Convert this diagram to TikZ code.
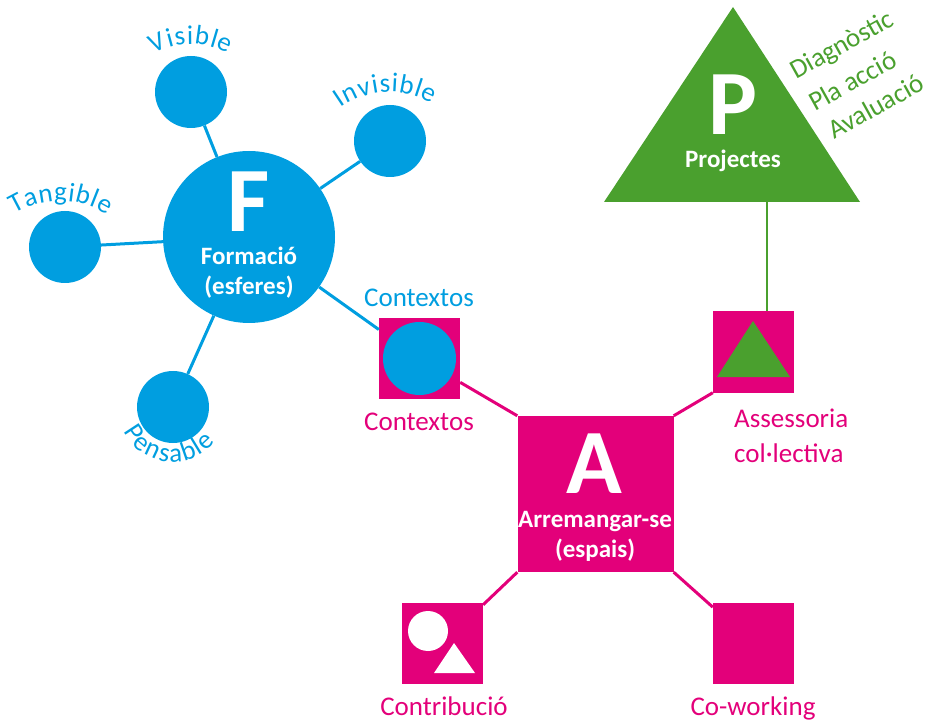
\documentclass[tikz,border=0pt]{standalone}
\usepackage{fontspec}
\setmainfont{Carlito}
\usetikzlibrary{decorations.text}
\definecolor{fblue}{RGB}{0,158,224}
\definecolor{apink}{RGB}{227,0,122}
\definecolor{pgreen}{RGB}{74,160,46}
\newcommand\lblfont{\fontsize{27pt}{32pt}\selectfont}
\newcommand\wboldfont{\fontsize{25pt}{30pt}\selectfont\bfseries}
\newcommand\hugefont{\fontsize{92pt}{92pt}\selectfont\bfseries}
\begin{document}
\begin{tikzpicture}[x=1pt,y=1pt,
  sat/.style={circle,fill=fblue,minimum size=72pt,inner sep=0pt},
  bigcirc/.style={circle,fill=fblue,minimum size=172pt,inner sep=0pt},
  sq/.style={rectangle,fill=apink,minimum size=81pt,inner sep=0pt},
  bline/.style={draw=fblue,line width=3pt},
  pline/.style={draw=apink,line width=3pt},
  gline/.style={draw=pgreen,line width=2.5pt},
  lbl/.style={font=\lblfont,inner sep=0pt,anchor=base},
  wlbl/.style={font=\wboldfont,text=white,inner sep=0pt,anchor=base},
  letter/.style={font=\hugefont,text=white,inner sep=0pt,anchor=base},
  glbl/.style={font=\lblfont,text=pgreen,inner sep=0pt,anchor=base west,rotate=29},
  arctext/.style={decorate,decoration={text along path,text align={fit to path},text color=fblue,text={#1}}},
]
\useasboundingbox (0,0) rectangle (930,-722);

% F cluster
\node[bigcirc] (F) at (249,-237) {};
\node[sat] (vis) at (191,-92) {};
\node[sat] (inv) at (390,-141) {};
\node[sat] (tan) at (65,-247) {};
\node[sat] (pen) at (173,-407) {};
\draw[bline] (vis) -- (F);
\draw[bline] (inv) -- (F);
\draw[bline] (tan) -- (F);
\draw[bline] (pen) -- (F);

% squares
\node[sq] (ctx) at (419.5,-358.5) {};
\node[circle,fill=fblue,minimum size=73pt,inner sep=0pt] (ctxc) at (ctx) {};
\node[rectangle,fill=apink,minimum size=156pt,inner sep=0pt] (A) at (595.5,-494) {};
\node[sq] (ass) at (753.5,-352) {};
\node[sq] (con) at (442.5,-643.5) {};
\node[sq] (cow) at (753.5,-643.5) {};

\draw[bline] (F) -- (ctx);
\draw[pline] (A.north west) -- (ctx);
\draw[pline] (A.north east) -- (ass.south west);
\draw[pline] (A.south west) -- (con);
\draw[pline] (A.south east) -- (cow);

% P triangle
\coordinate (Ptop) at (733,-7);
\coordinate (Pleft) at (604,-202);
\coordinate (Pright) at (860,-202);
\fill[pgreen] (Ptop) -- (Pleft) -- (Pright) -- cycle;
\coordinate (Pc) at (767,-202);
\draw[gline] (Pc) -- (Pc |- ass.north);

% icons inside squares
\fill[pgreen] (753,-321) -- (717,-377) -- (790,-377) -- cycle;
\fill[white] (428,-631) circle[radius=20];
\fill[white] (454,-643) -- (434,-673) -- (475,-673) -- cycle;

% white texts
\node[letter] (Fl) at (249,-232) {F};
\node[wlbl] (F1) at (249,-265) {Formació};
\node[wlbl] (F2) at (249,-295) {(esferes)};
\node[letter] (Al) at (594,-493) {A};
\node[wlbl] (A1) at (595,-527) {Arremangar-se};
\node[wlbl] (A2) at (595,-557) {(espais)};
\node[letter] (Pl) at (733,-135) {P};
\node[wlbl] (P1) at (733,-168) {Projectes};

% labels
\node[lbl,text=fblue] (ctxt) at (419,-307) {Contextos};
\node[lbl,text=apink] (ctxb) at (419,-430) {Contextos};
\node[lbl,text=apink,anchor=base west] (as1) at (734,-428) {Assessoria};
\node[lbl,text=apink,anchor=base west] (as2) at (734,-462) {col·lectiva};
\node[lbl,text=apink] (cont) at (444,-715) {Contribució};
\node[lbl,text=apink] (cowt) at (753,-715) {Co-working};

\node[glbl] (g1) at (796,-80) {Diagnòstic};
\node[glbl] (g2) at (815,-112) {Pla acció};
\node[glbl] (g3) at (834,-140) {Avaluació};

% curved labels
\begin{scope}[shift={(191,-118)}]
\lblfont
\path[arctext=Visible] (120:74) arc[start angle=120,end angle=60,radius=74];
\end{scope}
\begin{scope}[shift={(390,-176)}]
\lblfont
\path[arctext=Invisible] (126:84) arc[start angle=126,end angle=60,radius=84];
\end{scope}
\begin{scope}[shift={(60,-287)}]
\lblfont
\path[arctext=Tangible] (122:86) arc[start angle=122,end angle=57,radius=86];
\end{scope}
\begin{scope}[shift={(173,-407)}]
\lblfont
\path[arctext=Pensable] (206:55) arc[start angle=206,end angle=320,radius=55];
\end{scope}
\end{tikzpicture}
\end{document}
